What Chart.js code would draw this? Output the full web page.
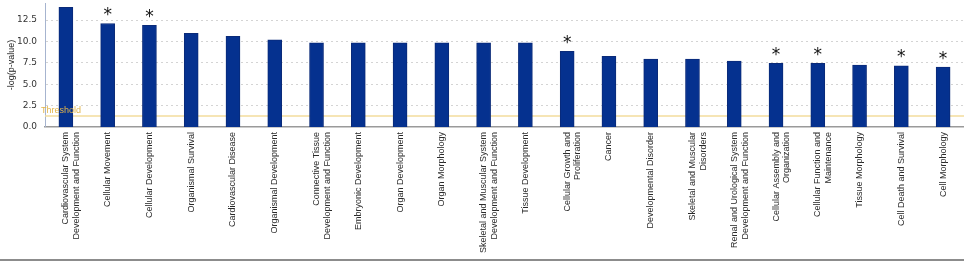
<!DOCTYPE html>
<html>
<head>
<meta charset="utf-8">
<script src="https://cdn.jsdelivr.net/npm/chart.js@4/dist/chart.umd.min.js"></script>
<style>
    html, body { margin: 0; padding: 0; background: #fff; overflow: hidden; }
    #wrap { width: 964px; height: 259px; border-bottom: 2px solid #8c8c8c; }
</style>
</head>
<body>
<div id="wrap"><canvas id="funcionesChart" width="964" height="259"></canvas></div>
<script>
// Categorias (etiquetas del eje x, con saltos de linea)
const categorias = [
    ['Cardiovascular System', 'Development and Function'],
    'Cellular Movement',
    'Cellular Development',
    'Organismal Survival',
    'Cardiovascular Disease',
    'Organismal Development',
    ['Connective Tissue', 'Development and Function'],
    'Embryonic Development',
    'Organ Development',
    'Organ Morphology',
    ['Skeletal and Muscular System', 'Development and Function'],
    'Tissue Development',
    ['Cellular Growth and', 'Proliferation'],
    'Cancer',
    'Developmental Disorder',
    ['Skeletal and Muscular', 'Disorders'],
    ['Renal and Urological System', 'Development and Function'],
    ['Cellular Assembly and', 'Organization'],
    ['Cellular Function and', 'Maintenance'],
    'Tissue Morphology',
    'Cell Death and Survival',
    'Cell Morphology'
];

// -log(p-value) de cada categoria
const valores = [14.0, 12.1, 11.9, 10.95, 10.6, 10.2, 9.85, 9.85, 9.85, 9.85, 9.85, 9.85,
                 8.85, 8.25, 7.95, 7.95, 7.7, 7.45, 7.45, 7.25, 7.15, 7.0];

// Categorias marcadas con asterisco
const marcadas = [false, true, true, false, false, false, false, false, false, false, false, false,
                  true, false, false, false, false, true, true, false, true, true];

// Umbral y marcas del eje y
const umbral = 1.3;
const marcasY = [0, 2.5, 5, 7.5, 10, 12.5];

// Linea de umbral (detras de las barras)
const pluginUmbral = {
    id: 'umbral',
    beforeDatasetsDraw(chart) {
        const ctx = chart.ctx;
        const area = chart.chartArea;
        const y = chart.scales.y.getPixelForValue(umbral);
        ctx.save();
        ctx.strokeStyle = '#f3dc9c';
        ctx.lineWidth = 1.5;
        ctx.beginPath();
        ctx.moveTo(area.left, y);
        ctx.lineTo(area.right, y);
        ctx.stroke();
        ctx.restore();
    },
    afterDatasetsDraw(chart) {
        // Etiqueta encima de las barras
        const ctx = chart.ctx;
        const area = chart.chartArea;
        const y = chart.scales.y.getPixelForValue(umbral);
        ctx.save();
        ctx.fillStyle = '#e2b54a';
        ctx.font = '9px "Liberation Sans", Arial, sans-serif';
        ctx.textAlign = 'left';
        ctx.textBaseline = 'bottom';
        ctx.fillText('Threshold', area.left - 4, y - 1);
        ctx.restore();
    }
};

// Asteriscos sobre las barras marcadas
const pluginAsteriscos = {
    id: 'asteriscos',
    afterDatasetsDraw(chart) {
        const ctx = chart.ctx;
        const meta = chart.getDatasetMeta(0);
        ctx.save();
        ctx.fillStyle = '#111';
        ctx.font = '17px "DejaVu Sans", sans-serif';
        ctx.textAlign = 'center';
        ctx.textBaseline = 'middle';
        meta.data.forEach((barra, i) => {
            if (marcadas[i]) {
                ctx.fillText('*', barra.x, barra.y - 8);
            }
        });
        ctx.restore();
    }
};

const canvas = document.getElementById('funcionesChart');
const ctx = canvas.getContext('2d');

const chartData = {
    labels: categorias,
    datasets: [{
        label: '-log(p-value)',
        data: valores,
        backgroundColor: '#05318f',
        borderColor: '#0a2a78',
        borderWidth: 1,
        barThickness: 14
    }]
};

const options = {
    responsive: false,
    animation: false,
    layout: {
        padding: { top: 3, right: 0, bottom: 4, left: 6 }
    },
    plugins: {
        legend: { display: false },
        tooltip: { enabled: false }
    },
    scales: {
        x: {
            grid: { display: false, drawTicks: false },
            border: { color: '#9a9a9a', width: 1.5 },
            ticks: {
                autoSkip: false,
                minRotation: 90,
                maxRotation: 90,
                padding: 5,
                color: '#2a2a2a',
                font: { family: '"Liberation Sans", Arial, sans-serif', size: 9 }
            },
            afterFit: function(scale) {
                scale.height = 128;
                scale.paddingLeft = 0;
                scale.paddingRight = 0;
            }
        },
        y: {
            min: 0,
            max: 14.5,
            afterBuildTicks: function(scale) {
                scale.ticks = marcasY.map(v => ({ value: v }));
            },
            grid: {
                color: '#d4d4d4',
                drawTicks: false,
                lineWidth: c => (c.tick && c.tick.value === 0) ? 0 : 1
            },
            // en v4 border.dash define el punteado de la cuadricula
            border: { color: '#a6b4cf', width: 1, dash: [2, 3] },
            ticks: {
                padding: 8,
                color: '#333',
                font: { family: '"DejaVu Sans", sans-serif', size: 9 },
                callback: v => v.toFixed(1)
            },
            title: {
                display: true,
                text: '-log(p-value)',
                color: '#222',
                padding: { top: 0, bottom: 0 },
                font: { family: '"Liberation Sans", Arial, sans-serif', size: 9 }
            },
            afterFit: function(scale) {
                scale.width = 39;
                scale.paddingTop = 0;
                scale.paddingBottom = 0;
            }
        }
    }
};

window.funcionesChart = new Chart(ctx, {
    type: 'bar',
    data: chartData,
    options: options,
    plugins: [pluginUmbral, pluginAsteriscos]
});
</script>
</body>
</html>
